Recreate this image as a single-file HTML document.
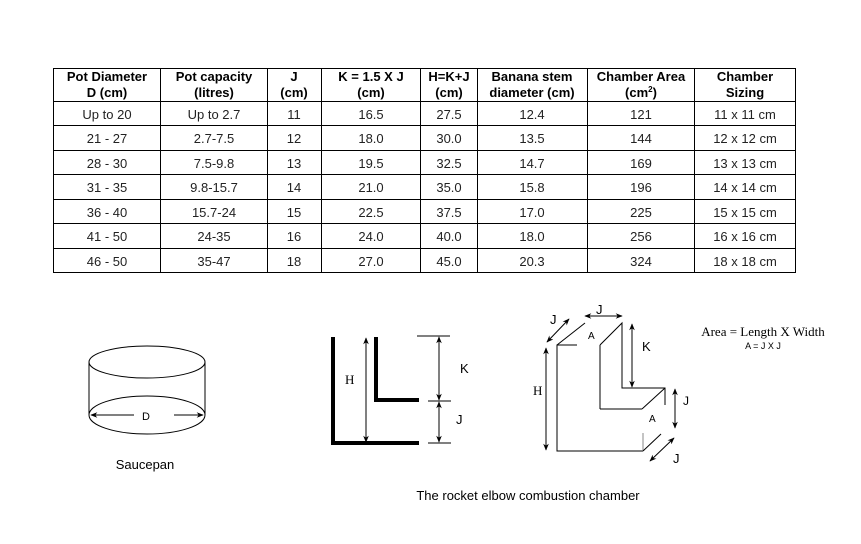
<!DOCTYPE html>
<html><head><meta charset="utf-8"><style>
body{margin:0;background:#fff}
svg{display:block}
text{font-family:"Liberation Sans",Arial,sans-serif;fill:#000}
.h{font-weight:bold;font-size:13px}
.b{font-size:13px;fill:#222}
.s{font-family:"Liberation Serif",serif;font-size:13px}
</style></head><body>
<svg width="861" height="544" viewBox="0 0 861 544" xmlns="http://www.w3.org/2000/svg">
<defs>
<marker id="a" viewBox="0 0 10 10" refX="9" refY="5" markerWidth="7" markerHeight="7" orient="auto-start-reverse"><path d="M0,1 L10,5 L0,9 L3,5 z" fill="#000"/></marker>
</defs>
<g stroke="#000" stroke-width="1" fill="none">
<rect x="53.5" y="68.5" width="742" height="204"/>
<line x1="160.5" y1="68" x2="160.5" y2="273"/>
<line x1="267.5" y1="68" x2="267.5" y2="273"/>
<line x1="321.5" y1="68" x2="321.5" y2="273"/>
<line x1="420.5" y1="68" x2="420.5" y2="273"/>
<line x1="477.5" y1="68" x2="477.5" y2="273"/>
<line x1="587.5" y1="68" x2="587.5" y2="273"/>
<line x1="694.5" y1="68" x2="694.5" y2="273"/>
<line x1="53" y1="101.5" x2="796" y2="101.5"/>
<line x1="53" y1="125.5" x2="796" y2="125.5"/>
<line x1="53" y1="150.5" x2="796" y2="150.5"/>
<line x1="53" y1="174.5" x2="796" y2="174.5"/>
<line x1="53" y1="199.5" x2="796" y2="199.5"/>
<line x1="53" y1="223.5" x2="796" y2="223.5"/>
<line x1="53" y1="248.5" x2="796" y2="248.5"/>
</g>
<g class="h" text-anchor="middle">
<text class="h" x="107" y="81">Pot Diameter</text><text class="h" x="107" y="97">D (cm)</text>
<text class="h" x="214" y="81">Pot capacity</text><text class="h" x="214" y="97">(litres)</text>
<text class="h" x="294" y="81">J</text><text class="h" x="294" y="97">(cm)</text>
<text class="h" x="371" y="81">K = 1.5 X J</text><text class="h" x="371" y="97">(cm)</text>
<text class="h" x="449" y="81">H=K+J</text><text class="h" x="449" y="97">(cm)</text>
<text class="h" x="532" y="81">Banana stem</text><text class="h" x="532" y="97">diameter (cm)</text>
<text class="h" x="641" y="81">Chamber Area</text><text class="h" x="641" y="97">(cm<tspan dy="-5" font-size="8">2</tspan><tspan dy="5">)</tspan></text>
<text class="h" x="745" y="81">Chamber</text><text class="h" x="745" y="97">Sizing</text>
</g>
<g text-anchor="middle">
<text class="b" x="107" y="119">Up to 20</text><text class="b" x="214" y="119">Up to 2.7</text><text class="b" x="294" y="119">11</text><text class="b" x="371" y="119">16.5</text><text class="b" x="449" y="119">27.5</text><text class="b" x="532" y="119">12.4</text><text class="b" x="641" y="119">121</text><text class="b" x="745" y="119">11 x 11 cm</text>
<text class="b" x="107" y="143">21 - 27</text><text class="b" x="214" y="143">2.7-7.5</text><text class="b" x="294" y="143">12</text><text class="b" x="371" y="143">18.0</text><text class="b" x="449" y="143">30.0</text><text class="b" x="532" y="143">13.5</text><text class="b" x="641" y="143">144</text><text class="b" x="745" y="143">12 x 12 cm</text>
<text class="b" x="107" y="168">28 - 30</text><text class="b" x="214" y="168">7.5-9.8</text><text class="b" x="294" y="168">13</text><text class="b" x="371" y="168">19.5</text><text class="b" x="449" y="168">32.5</text><text class="b" x="532" y="168">14.7</text><text class="b" x="641" y="168">169</text><text class="b" x="745" y="168">13 x 13 cm</text>
<text class="b" x="107" y="192">31 - 35</text><text class="b" x="214" y="192">9.8-15.7</text><text class="b" x="294" y="192">14</text><text class="b" x="371" y="192">21.0</text><text class="b" x="449" y="192">35.0</text><text class="b" x="532" y="192">15.8</text><text class="b" x="641" y="192">196</text><text class="b" x="745" y="192">14 x 14 cm</text>
<text class="b" x="107" y="217">36 - 40</text><text class="b" x="214" y="217">15.7-24</text><text class="b" x="294" y="217">15</text><text class="b" x="371" y="217">22.5</text><text class="b" x="449" y="217">37.5</text><text class="b" x="532" y="217">17.0</text><text class="b" x="641" y="217">225</text><text class="b" x="745" y="217">15 x 15 cm</text>
<text class="b" x="107" y="241">41 - 50</text><text class="b" x="214" y="241">24-35</text><text class="b" x="294" y="241">16</text><text class="b" x="371" y="241">24.0</text><text class="b" x="449" y="241">40.0</text><text class="b" x="532" y="241">18.0</text><text class="b" x="641" y="241">256</text><text class="b" x="745" y="241">16 x 16 cm</text>
<text class="b" x="107" y="266">46 - 50</text><text class="b" x="214" y="266">35-47</text><text class="b" x="294" y="266">18</text><text class="b" x="371" y="266">27.0</text><text class="b" x="449" y="266">45.0</text><text class="b" x="532" y="266">20.3</text><text class="b" x="641" y="266">324</text><text class="b" x="745" y="266">18 x 18 cm</text>
</g>
<!-- saucepan -->
<g stroke="#000" fill="none">
<ellipse cx="147" cy="362" rx="58" ry="16"/>
<line x1="89" y1="362" x2="89" y2="415"/><line x1="205" y1="362" x2="205" y2="415"/>
<ellipse cx="147" cy="415" rx="58" ry="19"/>
<line x1="134" y1="415" x2="91" y2="415" marker-end="url(#a)"/>
<line x1="174" y1="415" x2="203" y2="415" marker-end="url(#a)"/>
</g>
<text x="146" y="420" font-size="11" text-anchor="middle">D</text>
<text x="145" y="469" font-size="13" text-anchor="middle">Saucepan</text>
<!-- L diagram -->
<g stroke="#000" fill="none">
<path d="M333,337 V443 H419" stroke-width="4"/>
<path d="M376,337 V400 H419" stroke-width="4"/>
<line x1="366" y1="338" x2="366" y2="442" marker-start="url(#a)" marker-end="url(#a)"/>
<line x1="417" y1="336" x2="450" y2="336"/>
<line x1="428" y1="401" x2="451" y2="401"/>
<line x1="428" y1="443" x2="451" y2="443"/>
<line x1="439" y1="337" x2="439" y2="400" marker-start="url(#a)" marker-end="url(#a)"/>
<line x1="439" y1="402" x2="439" y2="442" marker-start="url(#a)" marker-end="url(#a)"/>
</g>
<text class="s" x="345" y="384">H</text>
<text x="460" y="373" font-size="13">K</text>
<text x="456" y="424" font-size="13">J</text>
<!-- 3D chamber -->
<g stroke="#000" fill="none">
<path d="M577,345 H557 V451 H643"/>
<line x1="643" y1="433" x2="643" y2="451" stroke="#888"/>
<line x1="557" y1="345" x2="585" y2="323"/>
<path d="M600,345 L622,323 V388 H665 V405"/>
<line x1="600" y1="345" x2="600" y2="409"/>
<line x1="600" y1="409" x2="642" y2="409"/>
<line x1="665" y1="388" x2="642" y2="409"/>
<line x1="643" y1="451" x2="661" y2="434"/>
<line x1="546" y1="348" x2="546" y2="450" marker-start="url(#a)" marker-end="url(#a)"/>
<line x1="632" y1="324" x2="632" y2="387" marker-start="url(#a)" marker-end="url(#a)"/>
<line x1="675" y1="389" x2="675" y2="428" marker-start="url(#a)" marker-end="url(#a)"/>
<line x1="585" y1="316" x2="622" y2="316" marker-start="url(#a)" marker-end="url(#a)"/>
<line x1="547" y1="342" x2="569" y2="319" marker-start="url(#a)" marker-end="url(#a)"/>
<line x1="650" y1="461" x2="674" y2="438" marker-start="url(#a)" marker-end="url(#a)"/>
</g>
<text x="596" y="314" font-size="13">J</text>
<text x="550" y="324" font-size="13">J</text>
<text x="588" y="339" font-size="10">A</text>
<text x="642" y="351" font-size="13">K</text>
<text class="s" x="533" y="395">H</text>
<text x="683" y="405" font-size="12">J</text>
<text x="649" y="422" font-size="10">A</text>
<text x="673" y="463" font-size="13">J</text>
<text class="s" x="763" y="336" text-anchor="middle">Area = Length X Width</text>
<text x="763" y="349" font-size="9" text-anchor="middle">A = J X J</text>
<text x="528" y="500" font-size="13" text-anchor="middle">The rocket elbow combustion chamber</text>
</svg>
</body></html>
